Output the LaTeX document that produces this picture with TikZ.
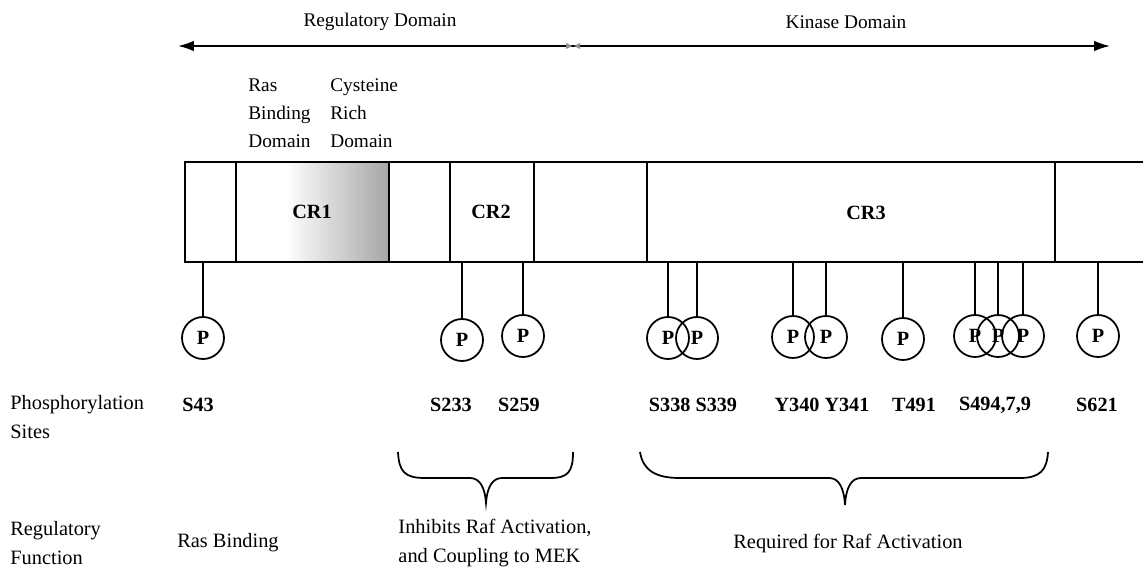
\documentclass[tikz,border=0pt]{standalone}
\usepackage{fontspec}
\setmainfont{Liberation Serif}
\usetikzlibrary{arrows.meta}
\begin{document}
\begin{tikzpicture}[x=0.02cm,y=-0.02cm,
  lbl/.style={font=\fontsize{11}{16}\selectfont, inner sep=0pt},
  llbl/.style={font=\fontsize{11.6}{16}\selectfont, inner sep=0pt},
  blbl/.style={font=\fontsize{11.5}{16}\selectfont\bfseries, inner sep=0pt},
  pcirc/.style={circle, draw, line width=1pt, minimum size=0.84cm, inner sep=0pt, font=\fontsize{11.5}{13}\selectfont\bfseries},
  stem/.style={line width=0.9pt},
  boxline/.style={line width=1.1pt},
  brace/.style={line width=1pt}
]
\useasboundingbox (0,0) rectangle (1143,574);

% domain arrow
\coordinate (al) at (178,46);
\coordinate (ar) at (1110,46);
\draw[line width=1pt, {Latex[length=9pt,width=6pt]}-{Latex[length=9pt,width=6pt]}] (al) -- (ar);
\fill[black!45] (566,43) -- (572,46) -- (566,49) -- cycle;
\fill[black!45] (580,43) -- (574,46) -- (580,49) -- cycle;
\node[lbl] (regdom) at (380,22) {Regulatory Domain};
\node[lbl] (kindom) at (846,22) {Kinase Domain};

% sub-domain labels
\node[lbl, anchor=north west, align=left] (rbd) at (248,78) {Ras\\Binding\\Domain};
\node[lbl, anchor=north west, align=left] (crd) at (330,78) {Cysteine\\Rich\\Domain};

% protein box
\shade[left color=white, right color=black!35] (285,163) rectangle (389,261);
\draw[boxline] (1150,162) -- (185,162) -- (185,262) -- (1150,262);
\foreach \x in {236,389,450,534,647,1055} \draw[boxline] (\x,162) -- (\x,262);
\node[blbl] (cr1) at (312,212) {CR1};
\node[blbl] (cr2) at (491,212) {CR2};
\node[blbl] (cr3) at (866,213) {CR3};

% phosphorylation sites
\foreach \n/\x/\yc in {s43/203/338, s233/462/340, s259/523/336, s338/668/338, s339/697/338, y340/793/337, y341/826/337, t491/903/339, s494/975/336, s497/998/336, s499/1023/336, s621/1098/336}
{
  \node[pcirc] (\n) at (\x,\yc) {P};
  \coordinate (\n top) at (\x,262);
  \draw[stem] (\n top) -- (\n.north);
}

% site labels
\node[llbl] (phos) at (10,405) [anchor=west] {Phosphorylation};
\node[llbl] (sites) at (10,432) [anchor=west] {Sites};
\node[blbl] (l43) at (198,405) {S43};
\node[blbl] (l233) at (451,405) {S233};
\node[blbl] (l259) at (519,405) {S259};
\node[blbl] (l338) at (693,405) {S338 S339};
\node[blbl] (l340) at (822,405) {Y340 Y341};
\node[blbl] (l491) at (914,405) {T491};
\node[blbl] (l494) at (995,405) {S494,7,9};
\node[blbl] (l621) at (1097,405) {S621};

% braces
\coordinate (b1l) at (398,452);
\coordinate (b1r) at (573,452);
\coordinate (b1t) at (486,503);
\draw[brace] (b1l) .. controls (399,472) and (405,478) .. (425,478) -- (470,478)
  .. controls (480,478) and (485,488) .. (b1t)
  .. controls (487,488) and (492,478) .. (502,478) -- (550,478)
  .. controls (568,478) and (573,472) .. (b1r);
\coordinate (b2l) at (640,452);
\coordinate (b2r) at (1048,452);
\coordinate (b2t) at (845,505);
\draw[brace] (b2l) .. controls (643,470) and (655,478) .. (680,478) -- (829,478)
  .. controls (839,478) and (844,488) .. (b2t)
  .. controls (846,488) and (851,478) .. (861,478) -- (1020,478)
  .. controls (1040,478) and (1047,470) .. (b2r);

% regulatory function
\node[llbl, anchor=west, align=left] (regfun) at (10,543) {Regulatory\\Function};
\node[llbl] (rasb) at (228,543) {Ras Binding};
\node[llbl, align=left] (inhib) at (495,543) {Inhibits Raf Activation,\\and Coupling to MEK};
\node[llbl] (req) at (848,543) {Required for Raf Activation};
\end{tikzpicture}
\end{document}
